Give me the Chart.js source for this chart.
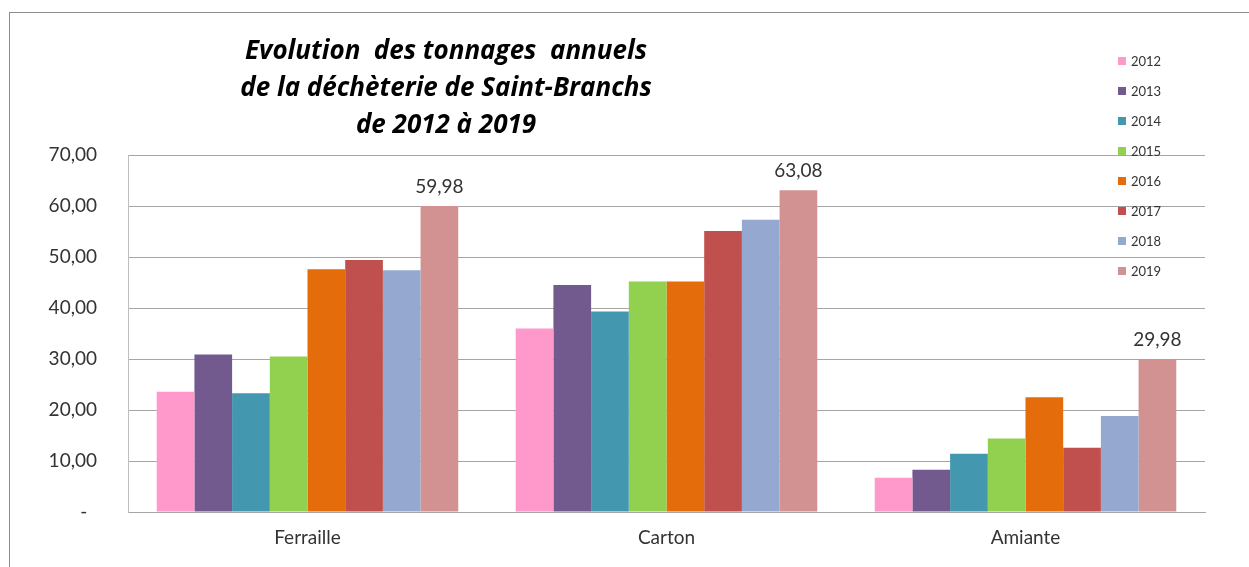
<!DOCTYPE html>
<html lang="fr">
<head>
<meta charset="utf-8">
<script src="https://cdn.jsdelivr.net/npm/chart.js@4/dist/chart.umd.min.js"></script>
<style>
    body { margin: 0; background: #fff; }
    #wrap { position: relative; width: 1249px; height: 567px; overflow: hidden; }
    #frame { position: absolute; left: 9px; top: 12px; width: 1300px; height: 600px; border: 1px solid #8c8c8c; }
    #titre {
        position: absolute; left: 0; top: 31px; width: 892px;
        text-align: center; font: italic bold 26px "Open Sans", sans-serif;
        line-height: 37px; color: #000;
    }
    #legende { position: absolute; left: 1118px; top: 0; font: 13px Lato, sans-serif; color: #333; }
    #legende div { position: absolute; white-space: nowrap; height: 14px; line-height: 14px; }
    #legende span { display: inline-block; width: 8px; height: 8px; margin-right: 5px; vertical-align: 1px; }
    canvas { position: absolute; left: 0; top: 0; }
</style>
</head>
<body>
<div id="wrap">
    <div id="frame"></div>
    <canvas id="chart" width="1249" height="567"></canvas>
    <div id="titre">Evolution&nbsp; des tonnages&nbsp; annuels<br>de la déchèterie de Saint-Branchs<br>de 2012 à 2019</div>
    <div id="legende"></div>
</div>
<script>
// Données (tonnes)
const categories = ['Ferraille', 'Carton', 'Amiante'];
const annees = ['2012', '2013', '2014', '2015', '2016', '2017', '2018', '2019'];
const t2012 = [23.6, 36.0, 6.7];
const t2013 = [30.9, 44.5, 8.3];
const t2014 = [23.3, 39.3, 11.4];
const t2015 = [30.5, 45.2, 14.4];
const t2016 = [47.6, 45.2, 22.5];
const t2017 = [49.4, 55.1, 12.6];
const t2018 = [47.4, 57.3, 18.8];
const t2019 = [59.98, 63.08, 29.98];
const couleurs = ['#ff99cc', '#725a8f', '#4398b0', '#92d050', '#e46c0a', '#c0504d', '#95a9d0', '#d29291'];

const series = [t2012, t2013, t2014, t2015, t2016, t2017, t2018, t2019];

const fmt = (v) => v.toFixed(2).replace('.', ',');

// étiquettes de valeur sur la série 2019 seulement
const etiquettes = {
    id: 'etiquettes',
    afterDatasetsDraw(chart) {
        const ctx = chart.ctx;
        const last = series.length - 1;
        const meta = chart.getDatasetMeta(last);
        ctx.save();
        ctx.font = '19px Lato, sans-serif';
        ctx.fillStyle = '#333';
        ctx.textAlign = 'center';
        ctx.textBaseline = 'middle';
        meta.data.forEach((bar, i) => {
            ctx.fillText(fmt(series[last][i]), bar.x, bar.y - 19);
        });
        ctx.restore();
    }
};

const chart = new Chart(document.getElementById('chart'), {
    type: 'bar',
    data: {
        labels: categories,
        datasets: annees.map((a, i) => ({
            label: a,
            data: series[i],
            backgroundColor: couleurs[i],
            borderWidth: 0,
            barPercentage: 1,
            categoryPercentage: 0.84,
        })),
    },
    options: {
        responsive: false,
        animation: false,
        layout: { padding: { left: 0, top: 155, right: 44, bottom: 0 } },
        plugins: {
            legend: { display: false },
            title: { display: false },
            tooltip: { enabled: false },
        },
        scales: {
            x: {
                grid: { display: false, drawTicks: false },
                border: { color: '#a6a6a6', width: 1 },
                ticks: { font: { family: 'Lato, sans-serif', size: 19 }, color: '#333', padding: 14 },
                afterFit: (s) => { s.height = 55; },
            },
            y: {
                min: 0,
                max: 70,
                grid: { color: '#a6a6a6', drawTicks: false },
                border: { color: '#bfbfbf', width: 1 },
                ticks: {
                    stepSize: 10,
                    padding: 31,
                    color: '#333',
                    font: { family: 'Lato, sans-serif', size: 19 },
                    callback: (v) => v === 0 ? '-  ' : fmt(v),
                },
                afterFit: (s) => { s.width = 128; },
            },
        },
    },
    plugins: [etiquettes],
});

// légende à droite, construite depuis les jeux de données
const legende = document.getElementById('legende');
chart.data.datasets.forEach((ds, i) => {
    const ligne = document.createElement('div');
    ligne.style.top = (54 + i * 30) + 'px';
    ligne.innerHTML = `<span style="background:${ds.backgroundColor}"></span>${ds.label}`;
    legende.appendChild(ligne);
});
</script>
</body>
</html>
